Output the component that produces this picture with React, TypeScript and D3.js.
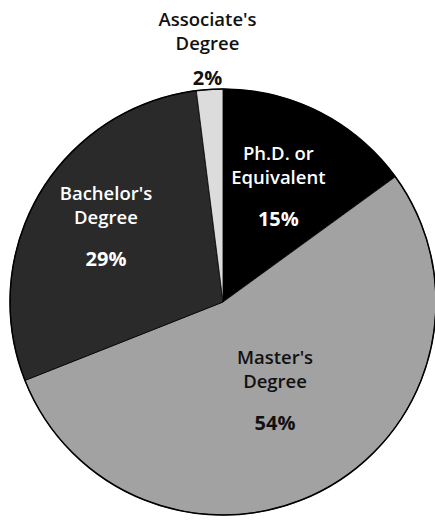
import { useMemo } from "react";
import * as d3 from "d3";

const WIDTH = 435;
const HEIGHT = 521;
const CX = 223;
const CY = 302;
const RADIUS = 213;

// Slices, clockwise from 12 o'clock
const categories = ["Ph.D. or Equivalent", "Master's Degree", "Bachelor's Degree", "Associate's Degree"];
const shares = [15, 54, 29, 2];
const labelLines = [
  ["Ph.D. or", "Equivalent"],
  ["Master's", "Degree"],
  ["Bachelor's", "Degree"],
  ["Associate's", "Degree"],
];

const FILLS = ["#000000", "#a2a2a2", "#2a2a2a", "#dcdcdc"];
const TEXT_FILLS = ["#ffffff", "#111111", "#ffffff", "#111111"];
// how far from the centre each label block sits
const LABEL_R = [122, 108, 136, 247];
const LINE_H = 24;

export default function App() {
  const arcs = useMemo(() => {
    const pie = d3
      .pie<number>()
      .sort(null)
      .startAngle(0)
      .endAngle(Math.PI * 2)
      .value((d) => d);
    return pie(shares);
  }, []);

  const arc = d3.arc<d3.PieArcDatum<number>>().innerRadius(0).outerRadius(RADIUS);

  return (
    <svg
      width={WIDTH}
      height={HEIGHT}
      style={{ position: "absolute", left: 0, top: 0, background: "#fff" }}
      fontFamily="'Open Sans', 'Noto Sans', sans-serif"
      fontWeight={600}>
      <g transform={`translate(${CX},${CY})`}>
        {/* ── Slices ── */}
        {arcs.map((a, i) => (
          <path key={categories[i]} d={arc(a) ?? ""} fill={FILLS[i]} stroke="#000" strokeWidth={0.8} />
        ))}
        <circle r={RADIUS} fill="none" stroke="#000" strokeWidth={1.5} />

        {/* ── Labels ── */}
        {arcs.map((a, i) => {
          const mid = (a.startAngle + a.endAngle) / 2;
          const r = LABEL_R[i];
          const x = Math.sin(mid) * r;
          const y = -Math.cos(mid) * r;
          const outside = r > RADIUS;
          const pctGap = outside ? 35 : 42;
          const top = y - (LINE_H + pctGap) / 2;
          return (
            <g key={categories[i]} fill={TEXT_FILLS[i]} textAnchor="middle" fontSize={18.5}>
              {labelLines[i].map((line, j) => (
                <text key={line} x={x} y={top + j * LINE_H}>
                  {line}
                </text>
              ))}
              <text x={x} y={top + LINE_H + pctGap} fontWeight={700} fontSize={20}>
                {shares[i]}%
              </text>
            </g>
          );
        })}
      </g>
    </svg>
  );
}
